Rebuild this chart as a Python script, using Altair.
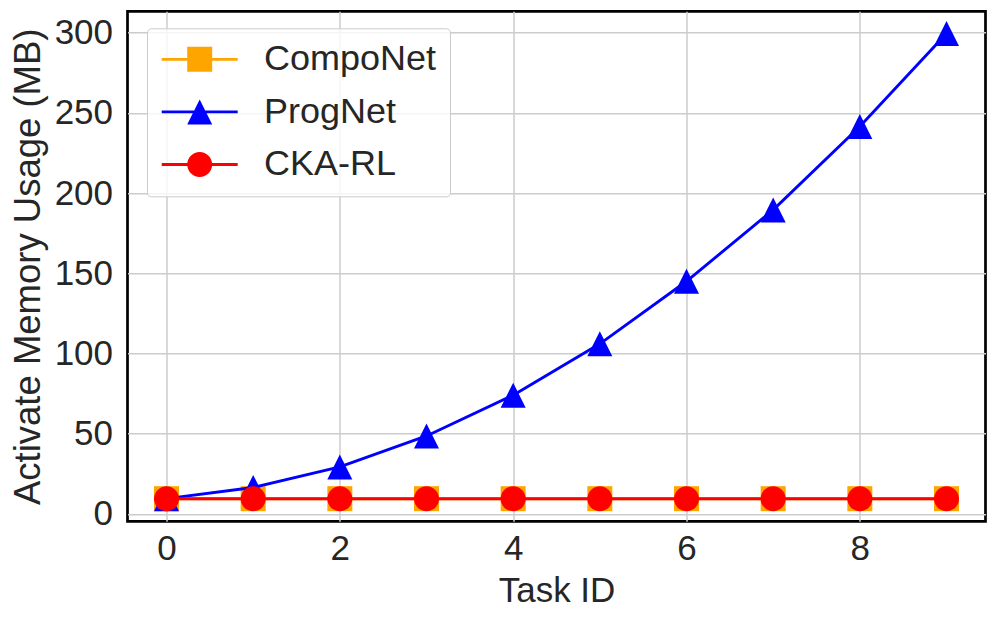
import altair as alt
import pandas as pd

# ---- data ----
task_ids = [0, 1, 2, 3, 4, 5, 6, 7, 8, 9]
series_names = ["CompoNet", "ProgNet", "CKA-RL"]
componet_mb = [9.5, 9.5, 9.5, 9.5, 9.5, 9.5, 9.5, 9.5, 9.5, 9.5]
prognet_mb = [9.5, 16.5, 29.3, 48.6, 74.0, 106.0, 145.0, 189.5, 241.5, 299.5]
ckarl_mb = [9.5, 9.5, 9.5, 9.5, 9.5, 9.5, 9.5, 9.5, 9.5, 9.5]
series_colors = ["#FFA500", "#0000FF", "#FF0000"]
x_ticks = [0, 2, 4, 6, 8]
y_ticks = [0, 50, 100, 150, 200, 250, 300]

# ---- styling ----
FONT = "Liberation Sans"
TEXT = "#262626"

# marker shapes in a [-1, 1] box
marker_paths = [
    "M-1,-1H1V1H-1Z",                               # square
    "M0,-1L1,1L-1,1Z",                              # triangle up
    "M1,0A1,1,0,1,1,-1,0A1,1,0,1,1,1,0Z",           # circle
]
# legend symbols: line segment + marker; path unit = 16.3 px
L = 2.331   # half line length (38 px)
m = 0.767   # half marker size (12.5 px)
t = 0.085   # half line thickness
line_seg = f"M-{L},-{t}H{L}V{t}H-{L}Z"
legend_paths = [
    line_seg + f"M-{m},-{m}H{m}V{m}H-{m}Z",
    line_seg + f"M0,-{m}L{m},{m}L-{m},{m}Z",
    line_seg + f"M{m},0A{m},{m},0,1,1,-{m},0A{m},{m},0,1,1,{m},0Z",
]

rows = []
for name, vals in zip(series_names, [componet_mb, prognet_mb, ckarl_mb]):
    for tid, v in zip(task_ids, vals):
        rows.append({"task": tid, "series": name, "mb": v})
df = pd.DataFrame(rows)

legend = alt.Legend(
    title=None,
    orient="none",
    legendX=19.5,
    legendY=17,
    padding=13,
    fillColor="rgba(255,255,255,0.8)",
    strokeColor="#cccccc",
    cornerRadius=4,
    labelFont=FONT,
    labelFontSize=36,
    labelColor=TEXT,
    labelOffset=46.4,
    labelLimit=400,
    symbolSize=1062.8,
    symbolOffset=21.7,
    symbolStrokeWidth=0,
    symbolOpacity=1,
    rowPadding=16.6,
)

x = alt.X(
    "task:Q",
    scale=alt.Scale(domain=[-0.45, 9.45], nice=False, zero=False),
    axis=alt.Axis(values=x_ticks, title="Task ID", labelPadding=10, titlePadding=7,
                  titleFontSize=35),
)
y = alt.Y(
    "mb:Q",
    scale=alt.Scale(domain=[-4.6, 313.3], nice=False, zero=False),
    axis=alt.Axis(values=y_ticks, title="Activate Memory Usage (MB)",
                  labelPadding=15, titlePadding=7, titleFontSize=36.5),
)
color = alt.Color("series:N", scale=alt.Scale(domain=series_names, range=series_colors),
                  legend=legend)
legend_shape = alt.Shape("series:N",
                         scale=alt.Scale(domain=series_names, range=legend_paths),
                         legend=legend)

# invisible layer that only drives the legend symbols
legend_driver = alt.Chart(df).mark_point(filled=True, opacity=0, strokeWidth=0).encode(
    x=x, y=y, color=color, shape=legend_shape
)

layers = [legend_driver]
for name, path in zip(series_names, marker_paths):
    base = alt.Chart(df).transform_filter(alt.datum.series == name)
    layers.append(base.mark_line(strokeWidth=2.9).encode(x=x, y=y, color=color))
    layers.append(
        base.mark_point(filled=True, size=625, opacity=1, strokeWidth=0, shape=path).encode(
            x=x, y=y, color=color
        )
    )

chart = (
    alt.layer(*layers)
    .properties(
        width=858,
        height=510,
        autosize=alt.AutoSizeParams(type="none"),
        padding={"left": 119.5, "top": 3.3, "right": 3.5, "bottom": 90},
        background="white",
    )
    .configure_view(stroke="black", strokeWidth=2.7)
    .configure_axis(
        labelFont=FONT,
        titleFont=FONT,
        labelFontSize=35,
        titleFontWeight="normal",
        labelColor=TEXT,
        titleColor=TEXT,
        domain=False,
        ticks=False,
        tickSize=0,
        gridColor="#cccccc",
        gridWidth=1.5,
    )
)

chart.save("out.html", embed_options={"renderer": "svg", "actions": False})
